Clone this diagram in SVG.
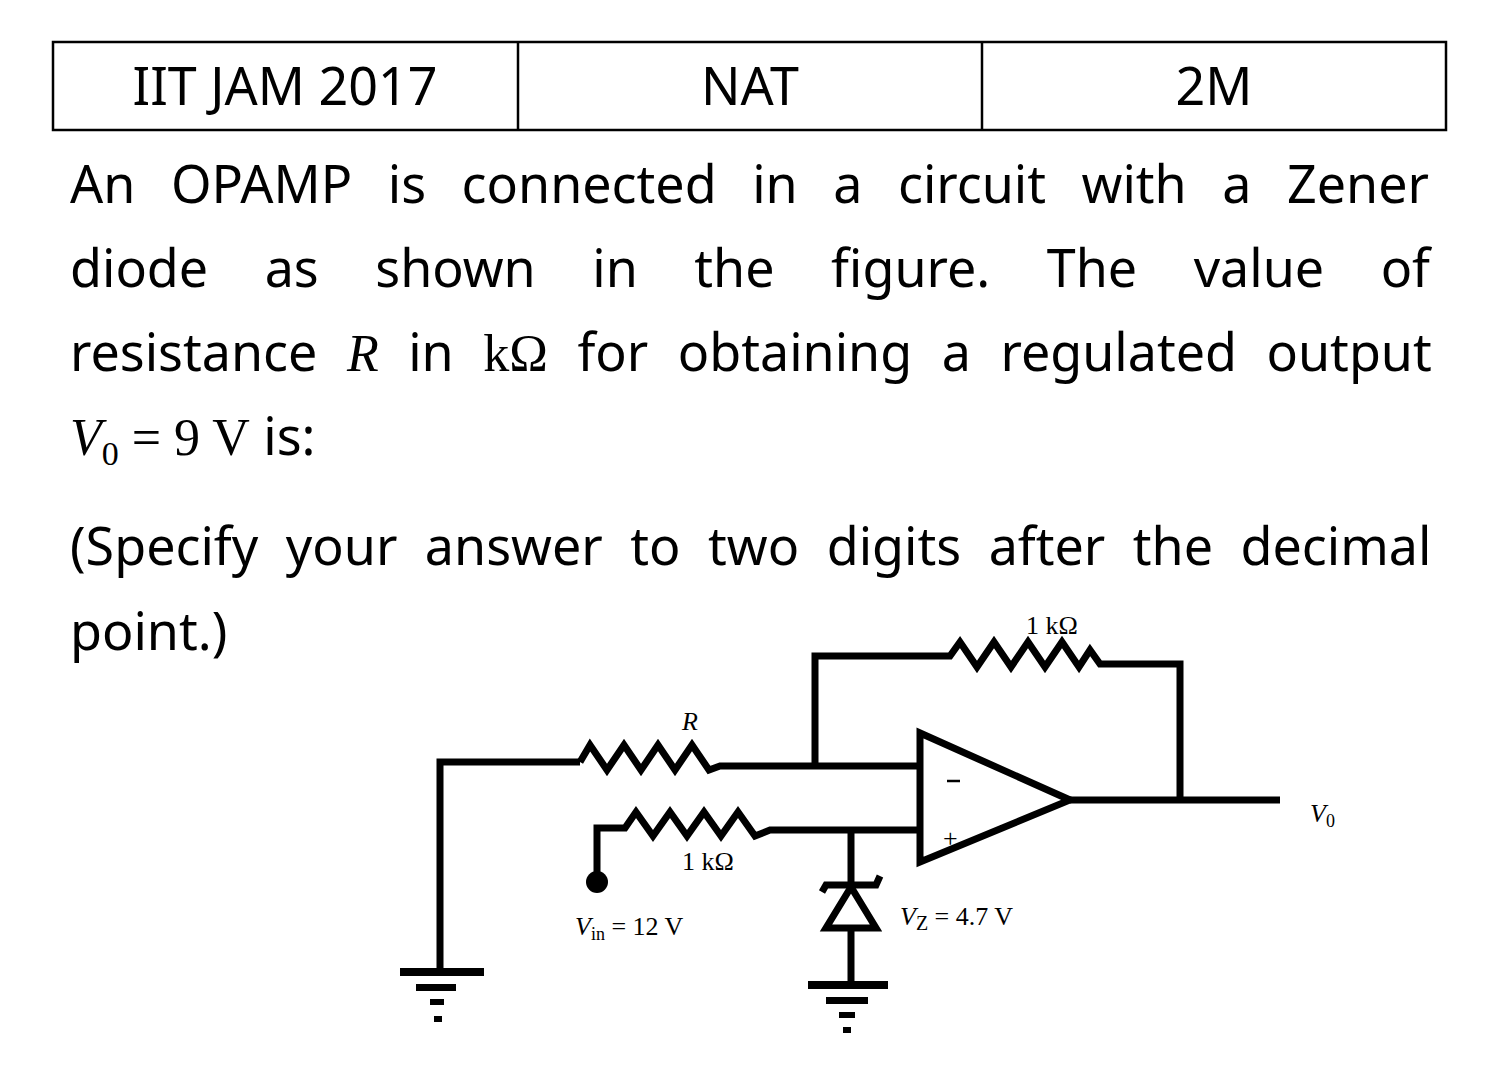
<svg xmlns="http://www.w3.org/2000/svg" width="1500" height="1086" viewBox="0 0 1500 1086">
<style>
.t{font-family:"Noto Sans","Open Sans",sans-serif;font-size:52px;fill:#000}
.m{font-family:"Liberation Serif",serif;font-style:italic}
.w{fill:none;stroke:#000;stroke-width:7;stroke-linejoin:miter}
.c{font-family:"Liberation Serif",serif;font-size:26px;fill:#000}
</style>
<rect width="1500" height="1086" fill="#fff"/>
<g id="header">
<rect x="53" y="42" width="1393" height="88" fill="none" stroke="#000" stroke-width="2.5"/>
<line x1="518" y1="42" x2="518" y2="130" stroke="#000" stroke-width="2.5"/>
<line x1="982" y1="42" x2="982" y2="130" stroke="#000" stroke-width="2.5"/>
<text class="t" x="285" y="105" text-anchor="middle">IIT JAM 2017</text>
<text class="t" x="750" y="105" text-anchor="middle">NAT</text>
<text class="t" x="1214" y="105" text-anchor="middle">2M</text>
</g>
<g id="question" class="t">
<text x="70" y="203" word-spacing="22">An OPAMP is connected in a circuit with a Zener</text>
<text x="70" y="287" word-spacing="43">diode as shown in the figure. The value of</text>
<text x="70" y="371" word-spacing="16">resistance <tspan class="m">R</tspan> in <tspan font-family="Liberation Serif,serif">kΩ</tspan> for obtaining a regulated output</text>
<text x="70" y="455"><tspan class="m">V</tspan><tspan font-family="Liberation Serif,serif" font-size="34" dy="10">0</tspan><tspan dy="-10" font-family="Liberation Serif,serif"> = 9 V</tspan> is:</text>
<text x="70" y="565" word-spacing="14">(Specify your answer to two digits after the decimal</text>
<text x="70" y="650">point.)</text>
</g>
<g id="connectors">
<polyline class="w" points="440,972 440,762 580,762"/>
<polyline class="w" points="580,762 590,745 607,770 624,745 641,770 658,745 675,770 692,745 709,770 720,766 730,766 920,766"/>
<polyline class="w" points="815,766 815,656 950,656 960,642 977,667 994,642 1011,667 1028,642 1045,667 1062,642 1079,667 1090,650 1100,664 1180,664 1180,800"/>
<polyline class="w" points="1070,800 1280,800"/>
<polyline class="w" points="597,882 597,828 625,828 636,812 653,836 670,812 687,836 704,812 721,836 738,812 755,836 770,830 920,830"/>
<polyline class="w" points="851,830 851,885"/>
<polyline class="w" points="851,928 851,985"/>
</g>
<g id="opamp">
<polygon class="w" points="920,733 920,862 1070,800"/>
<line x1="947" y1="781" x2="960" y2="781" stroke="#000" stroke-width="2.5"/>
<text class="c" x="943" y="847" font-size="28">+</text>
</g>
<g id="zener">
<polyline class="w" points="822,892 826,885 876,885 880,876"/>
<polygon class="w" points="851,887 826,928 876,928"/>
</g>
<g id="vin"><circle cx="597" cy="882" r="11" fill="#000"/></g>
<g id="ground1" fill="#000">
<rect x="400" y="968" width="84" height="8"/><rect x="416" y="984" width="40" height="7"/><rect x="430" y="999" width="14" height="6"/><rect x="434" y="1016" width="8" height="6"/>
</g>
<g id="ground2" fill="#000">
<rect x="808" y="981" width="80" height="8"/><rect x="826" y="997" width="42" height="7"/><rect x="839" y="1012" width="16" height="6"/><rect x="843" y="1027" width="8" height="6"/>
</g>
<g id="labels">
<text class="c" x="690" y="730" text-anchor="middle" font-style="italic">R</text>
<text class="c" x="708" y="870" text-anchor="middle">1 kΩ</text>
<text class="c" x="1052" y="634" text-anchor="middle">1 kΩ</text>
<text class="c" x="575" y="935"><tspan font-style="italic">V</tspan><tspan font-size="18" dy="5">in</tspan><tspan dy="-5"> = 12 V</tspan></text>
<text class="c" x="900" y="925"><tspan font-style="italic">V</tspan><tspan font-size="20" dy="5">Z</tspan><tspan dy="-5"> = 4.7 V</tspan></text>
<text class="c" x="1310" y="822"><tspan font-style="italic">V</tspan><tspan font-size="18" dy="5">0</tspan></text>
</g>
</svg>
